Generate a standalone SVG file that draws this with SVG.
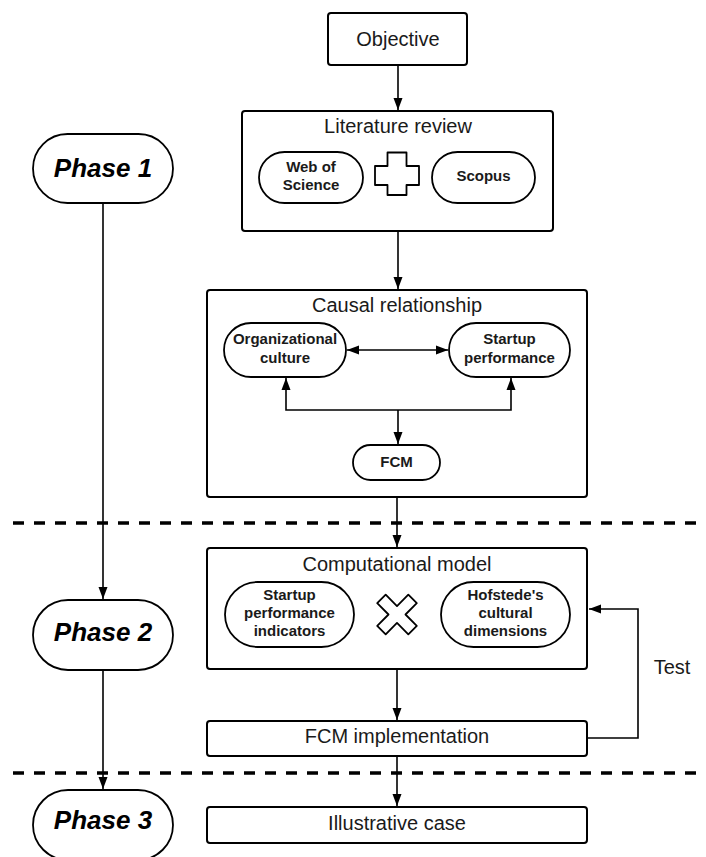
<svg xmlns="http://www.w3.org/2000/svg" width="706" height="857" viewBox="0 0 706 857">
<style>
.box{fill:#fff;stroke:#000;stroke-width:2}
.pill{fill:#fff;stroke:#000;stroke-width:1.8}
.t{font-family:"Liberation Sans",Arial,sans-serif;font-size:20px;text-anchor:middle;fill:#1a1a1a}
.b{font-family:"Liberation Sans",Arial,sans-serif;font-size:15px;font-weight:bold;text-anchor:middle;fill:#1a1a1a}
.ph{font-family:"Liberation Sans",Arial,sans-serif;font-size:26px;font-weight:bold;font-style:italic;text-anchor:middle;fill:#000}
.c{fill:none;stroke:#000;stroke-width:1.6}
.dash{fill:none;stroke:#000;stroke-width:3.5;stroke-dasharray:11 10}
</style>
<defs>
<marker id="ah" viewBox="0 0 12 10" refX="12" refY="5" markerWidth="12" markerHeight="10" markerUnits="userSpaceOnUse" orient="auto-start-reverse">
<path d="M0,0.5 L12,5 L0,9.5 Z" fill="#000"/>
</marker>
</defs>

<g id="dividers">
<line class="dash" x1="13" y1="523" x2="706" y2="523"/>
<line class="dash" x1="13" y1="773" x2="706" y2="773"/>
</g>

<g id="objective">
<rect class="box" x="328" y="13" width="139" height="52" rx="3"/>
<text class="t" x="398" y="46">Objective</text>
</g>

<g id="literature-review">
<rect class="box" x="242" y="111" width="311" height="120" rx="3"/>
<text class="t" x="398" y="133">Literature review</text>
</g>
<g id="web-of-science">
<rect class="pill" x="259" y="152" width="104" height="51" rx="25.5"/>
<text class="b" x="311" y="172">Web of</text>
<text class="b" x="311" y="190">Science</text>
</g>
<g id="plus">
<path class="pill" d="M387.5,152.5 H406.5 V166 H419 V185 H406.5 V195 H387.5 V185 H375 V166 H387.5 Z" stroke-linejoin="round"/>
</g>
<g id="scopus">
<rect class="pill" x="432" y="152" width="103" height="51" rx="25.5"/>
<text class="b" x="483.5" y="181">Scopus</text>
</g>

<g id="causal-relationship">
<rect class="box" x="207" y="290" width="380" height="207" rx="3"/>
<text class="t" x="397" y="312">Causal relationship</text>
</g>
<g id="organizational-culture">
<rect class="pill" x="224" y="323" width="122" height="54" rx="27"/>
<text class="b" x="285" y="344">Organizational</text>
<text class="b" x="285" y="363">culture</text>
</g>
<g id="startup-performance">
<rect class="pill" x="449" y="323" width="121" height="54" rx="27"/>
<text class="b" x="509.5" y="344">Startup</text>
<text class="b" x="509.5" y="363">performance</text>
</g>
<g id="fcm">
<rect class="pill" x="353" y="445" width="87" height="35" rx="17.5"/>
<text class="b" x="396.5" y="467">FCM</text>
</g>

<g id="computational-model">
<rect class="box" x="207" y="548" width="380" height="121" rx="3"/>
<text class="t" x="397" y="571">Computational model</text>
</g>
<g id="startup-performance-indicators">
<rect class="pill" x="225" y="582" width="129" height="65" rx="32.5"/>
<text class="b" x="289.5" y="600">Startup</text>
<text class="b" x="289.5" y="618">performance</text>
<text class="b" x="289.5" y="636">indicators</text>
</g>
<g id="times">
<path class="pill" transform="translate(397,614.5) rotate(45)" d="M-6,-22 H6 V-6 H22 V6 H6 V22 H-6 V6 H-22 V-6 H-6 Z" stroke-linejoin="round"/>
</g>
<g id="hofstede">
<rect class="pill" x="441" y="582" width="129" height="65" rx="32.5"/>
<text class="b" x="505.5" y="600">Hofstede's</text>
<text class="b" x="505.5" y="618">cultural</text>
<text class="b" x="505.5" y="636">dimensions</text>
</g>

<g id="fcm-implementation">
<rect class="box" x="207" y="721" width="380" height="35" rx="3"/>
<text class="t" x="397" y="743">FCM implementation</text>
</g>

<g id="illustrative-case">
<rect class="box" x="207" y="807" width="380" height="36" rx="3"/>
<text class="t" x="397" y="830">Illustrative case</text>
</g>

<g id="phase-1">
<rect class="pill" x="33" y="134" width="140" height="69" rx="34.5"/>
<text class="ph" x="103" y="177">Phase 1</text>
</g>
<g id="phase-2">
<rect class="pill" x="33" y="600" width="140" height="70" rx="35"/>
<text class="ph" x="103" y="641">Phase 2</text>
</g>
<g id="phase-3">
<rect class="pill" x="33" y="790" width="140" height="70" rx="35"/>
<text class="ph" x="103" y="829">Phase 3</text>
</g>

<g id="connectors">
<line class="c" x1="398" y1="65" x2="398" y2="110" marker-end="url(#ah)"/>
<line class="c" x1="398" y1="231" x2="398" y2="289" marker-end="url(#ah)"/>
<line class="c" x1="347" y1="350" x2="448" y2="350" marker-start="url(#ah)" marker-end="url(#ah)"/>
<path class="c" d="M398,410 H286 V378" marker-end="url(#ah)"/>
<path class="c" d="M398,410 H511 V378" marker-end="url(#ah)"/>
<line class="c" x1="398" y1="410" x2="398" y2="444" marker-end="url(#ah)"/>
<line class="c" x1="397" y1="497" x2="397" y2="547" marker-end="url(#ah)"/>
<line class="c" x1="397" y1="669" x2="397" y2="720" marker-end="url(#ah)"/>
<line class="c" x1="397" y1="756" x2="397" y2="806" marker-end="url(#ah)"/>
<path class="c" d="M588,738 H638 V609 H589" marker-end="url(#ah)"/>
<line class="c" x1="103" y1="203" x2="103" y2="599" marker-end="url(#ah)"/>
<line class="c" x1="103" y1="670" x2="103" y2="789" marker-end="url(#ah)"/>
<text class="t" x="672" y="674">Test</text>
</g>
</svg>
